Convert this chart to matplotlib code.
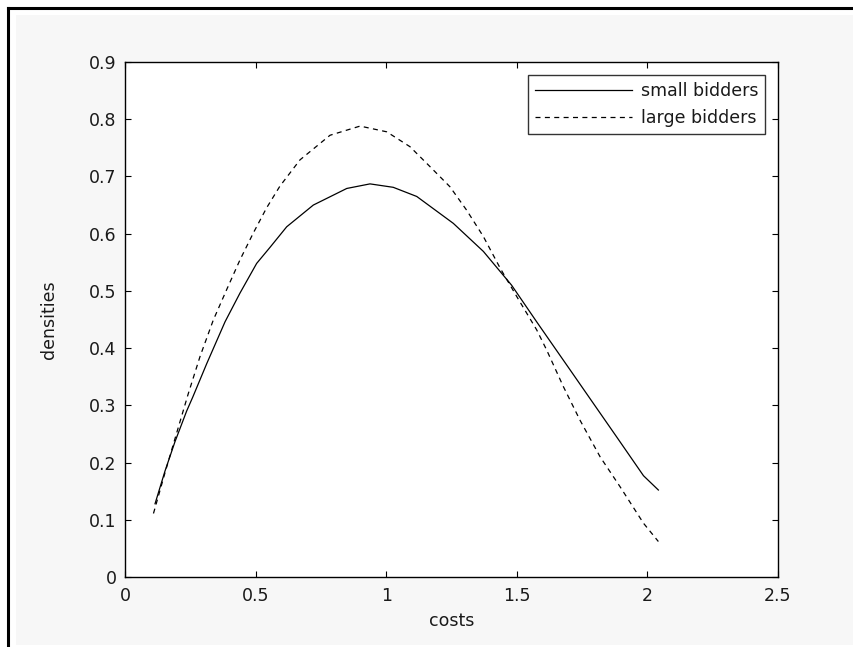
import matplotlib
matplotlib.use("Agg")
import matplotlib.pyplot as plt
from matplotlib.lines import Line2D
from matplotlib.patches import Rectangle

# Data
small_x = [0.115, 0.153, 0.191, 0.236, 0.260, 0.313, 0.383, 0.440, 0.504, 0.555,
           0.619, 0.721, 0.849, 0.938, 1.027, 1.117, 1.257, 1.372, 1.480, 1.576,
           1.646, 1.704, 1.780, 1.882, 1.985, 2.042]
small_y = [0.128, 0.185, 0.236, 0.290, 0.315, 0.373, 0.446, 0.496, 0.548, 0.576,
           0.612, 0.650, 0.679, 0.687, 0.681, 0.665, 0.618, 0.569, 0.510, 0.446,
           0.400, 0.362, 0.312, 0.245, 0.177, 0.152]

large_x = [0.109, 0.153, 0.198, 0.242, 0.287, 0.338, 0.389, 0.440, 0.491, 0.542,
           0.593, 0.670, 0.785, 0.900, 1.002, 1.091, 1.168, 1.244, 1.308, 1.372,
           1.436, 1.500, 1.576, 1.614, 1.678, 1.742, 1.819, 1.895, 1.985, 2.042]
large_y = [0.111, 0.182, 0.252, 0.320, 0.385, 0.449, 0.502, 0.554, 0.601, 0.645,
           0.683, 0.729, 0.772, 0.788, 0.778, 0.752, 0.717, 0.682, 0.641, 0.595,
           0.540, 0.490, 0.432, 0.397, 0.333, 0.274, 0.210, 0.158, 0.094, 0.062]

series_labels = ["small bidders", "large bidders"]
x_ticks = [0, 0.5, 1, 1.5, 2, 2.5]
x_ticklabels = ["0", "0.5", "1", "1.5", "2", "2.5"]
y_ticks = [0, 0.1, 0.2, 0.3, 0.4, 0.5, 0.6, 0.7, 0.8, 0.9]
y_ticklabels = ["0", "0.1", "0.2", "0.3", "0.4", "0.5", "0.6", "0.7", "0.8", "0.9"]

plt.rcParams['font.family'] = ['DejaVu Sans']
W, H = 854, 647
fig = plt.figure(figsize=(W / 100, H / 100), dpi=100, facecolor="white")

# off-white figure panel and black frame lines (top/left)
fig.patches.append(Rectangle((16 / W, 2 / H), 1 - 16 / W, 1 - 17 / H,
                             transform=fig.transFigure, facecolor="#f7f7f7",
                             edgecolor="none", zorder=-10))
fig.lines.append(Line2D([8 / W, 1], [1 - 8 / H, 1 - 8 / H], transform=fig.transFigure,
                        color="black", lw=2.2))
fig.lines.append(Line2D([8 / W, 8 / W], [0, 1 - 8 / H], transform=fig.transFigure,
                        color="black", lw=2.2))

ax = fig.add_axes([125 / W, 1 - 577 / H, (778 - 125) / W, (577 - 62) / H])
ax.set_facecolor("white")

ax.plot(small_x, small_y, color="black", lw=0.9, linestyle="-", label=series_labels[0])
ax.plot(large_x, large_y, color="black", lw=0.9, linestyle=(0, (4, 3.5)), label=series_labels[1])

txt_color = "#1a1a1a"
ax.set_xlim(0, 2.5)
ax.set_ylim(0, 0.9)
ax.set_xticks(x_ticks)
ax.set_xticklabels(x_ticklabels)
ax.set_yticks(y_ticks)
ax.set_yticklabels(y_ticklabels)
ax.tick_params(direction="in", length=4.5, width=0.8, top=True, right=True,
               labelsize=12.5, colors="black", labelcolor=txt_color)
ax.tick_params(axis="x", pad=7)
ax.tick_params(axis="y", pad=6)
for s in ax.spines.values():
    s.set_linewidth(1.0)
    s.set_color("black")

ax.set_xlabel("costs", fontsize=12.5, labelpad=5, color=txt_color)
ax.set_ylabel("densities", fontsize=12.5, labelpad=22, color=txt_color)

leg = ax.legend(loc="upper right", bbox_to_anchor=((765 - 125) / (778 - 125), (577 - 75) / (577 - 62)),
                fontsize=12.5, handlelength=5.6, handletextpad=0.5, borderpad=0.4,
                labelspacing=0.5, frameon=True, fancybox=False, borderaxespad=0)
leg.get_frame().set_edgecolor("black")
leg.get_frame().set_linewidth(1.0)
for t in leg.get_texts():
    t.set_color(txt_color)

fig.savefig("out.png", dpi=100, facecolor=fig.get_facecolor())
